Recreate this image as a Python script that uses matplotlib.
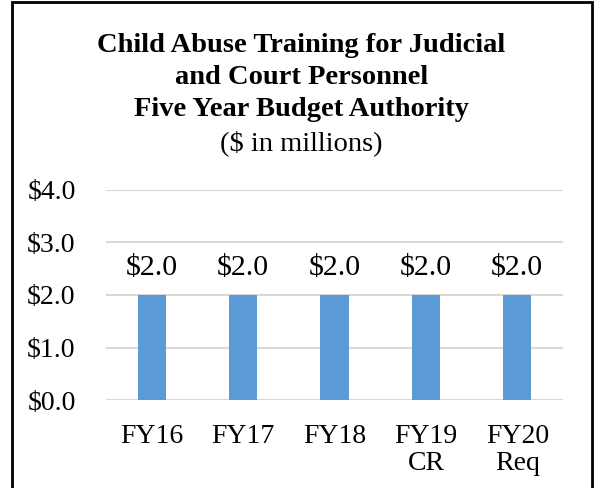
import matplotlib.pyplot as plt
from matplotlib.patches import Rectangle

categories = ["FY16", "FY17", "FY18", "FY19\nCR", "FY20\nReq"]
values = [2.0, 2.0, 2.0, 2.0, 2.0]
yticks = [0.0, 1.0, 2.0, 3.0, 4.0]

plt.rcParams['font.family'] = ['Liberation Serif', 'DejaVu Serif']

fig = plt.figure(figsize=(5.97, 4.88), dpi=100)
ax = fig.add_axes([0.178, 0.180, 0.765, 0.431])

x = range(len(categories))
ax.bar(x, values, width=0.31, color='#5b9bd5', zorder=3)
for xi, v in zip(x, values):
    ax.text(xi, v + 0.27, f"${v:.1f}", ha='center', va='bottom', fontsize=21.5)

ax.set_xlim(-0.5, len(categories) - 0.5)
ax.set_ylim(0, 4)
ax.set_yticks(yticks)
ax.set_yticklabels([f"${t:.1f}" for t in yticks], fontsize=20)
ax.set_xticks(list(x))
ax.set_xticklabels(categories, fontsize=20, linespacing=1.1, va='top')
ax.tick_params(length=0, pad=17)
ax.tick_params(axis='y', pad=22)
ax.grid(axis='y', color='#d9d9d9', lw=1.5, zorder=0)
for s in ax.spines.values():
    s.set_visible(False)

title = ["Child Abuse Training for Judicial", "and Court Personnel",
         "Five Year Budget Authority"]
ys = [45, 78, 110]
for t, yy in zip(title, ys):
    fig.text(0.505, 1 - yy / 488, t, ha='center', va='center',
             fontsize=20.5, fontweight='bold')
fig.text(0.505, 1 - 143 / 488, "($ in millions)", ha='center', va='center',
         fontsize=20.5)

fig.patches.append(Rectangle((12 / 597, -0.05), 580 / 597, 1.05 - 2 / 488,
                             transform=fig.transFigure, fill=False,
                             edgecolor='black', lw=2))

fig.savefig("out.png", dpi=100)
